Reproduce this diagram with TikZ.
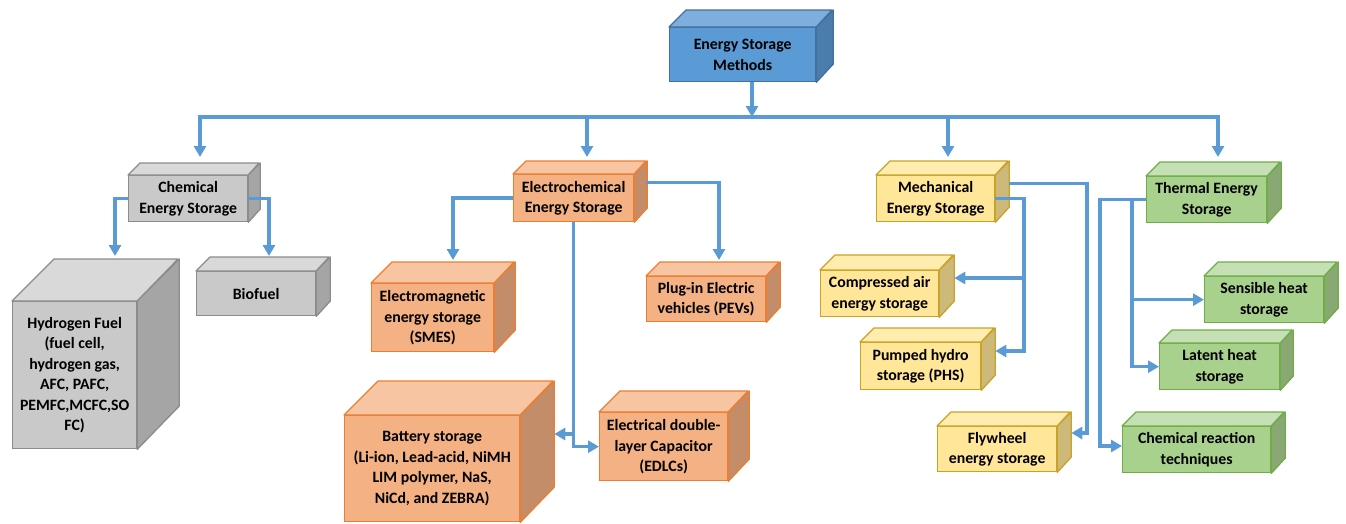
\documentclass[tikz,border=0pt]{standalone}
\usepackage{fontspec}
\setmainfont{Carlito}
\usetikzlibrary{arrows.meta}
\definecolor{conncol}{HTML}{5B9BD5}
\definecolor{bltop}{HTML}{7DAEDD}\definecolor{blfront}{HTML}{5B9BD5}\definecolor{blside}{HTML}{4A7CAC}\definecolor{blline}{HTML}{41719C}
\definecolor{grtop}{HTML}{D9D9D9}\definecolor{grfront}{HTML}{C9C9C9}\definecolor{grside}{HTML}{A5A5A5}\definecolor{grline}{HTML}{8C8C8C}
\definecolor{ortop}{HTML}{F7C5A2}\definecolor{orfront}{HTML}{F4B183}\definecolor{orside}{HTML}{C38D69}\definecolor{orline}{HTML}{ED7D31}
\definecolor{yetop}{HTML}{FFEDB0}\definecolor{yefront}{HTML}{FFE699}\definecolor{yeside}{HTML}{CDBA7A}\definecolor{yeline}{HTML}{C9A227}
\definecolor{gntop}{HTML}{C5E0B4}\definecolor{gnfront}{HTML}{A9D18E}\definecolor{gnside}{HTML}{89A874}\definecolor{gnline}{HTML}{70AD47}
\tikzset{
  x=1pt, y=-1pt,
  face/.style={inner sep=0pt, line width=1.3pt, align=center, text=black,
    font=\bfseries\fontsize{15.8}{20.5}\selectfont},
  facepart/.style={line width=1.3pt, line join=round},
  conn/.style={draw=conncol, line width=3.5pt},
  arr/.style={conn, -{Triangle[length=11pt,width=12pt]}},
}
% #1 name, #2 x1, #3 y1, #4 x2, #5 y2 (front face), #6 depth, #7 colour prefix, #8 text
\newcommand\mycube[8]{%
  \node[face, fill=#7front, draw=#7line, minimum width={(#4-#2)*1pt},
        minimum height={(#5-#3)*1pt}, anchor=north west] (#1) at (#2,#3) {#8};
  \filldraw[facepart, fill=#7top, draw=#7line] (#1.north west) -- ++(#6,-#6)
     -- ++({#4-#2},0) -- (#1.north east) -- cycle;
  \filldraw[facepart, fill=#7side, draw=#7line] (#1.north east) -- ++(#6,-#6)
     -- ++(0,{#5-#3}) -- (#1.south east) -- cycle;
  \path (#1.north east) ++(#6,-#6) coordinate (#1-tr);
}
\begin{document}
\begin{tikzpicture}
\useasboundingbox (0,0) rectangle (1346,523);
% boxes
\mycube{top}{669}{27}{815}{81}{17}{bl}{Energy Storage\\Methods}
\mycube{chem}{128}{175}{247}{221}{12}{gr}{Chemical\\Energy Storage}
\mycube{hyd}{12}{301}{136}{448}{42}{gr}{Hydrogen Fuel\\(fuel cell,\\hydrogen gas,\\AFC, PAFC,\\PEMFC,MCFC,SO\\FC)}
\mycube{bio}{196}{271}{315}{315}{14}{gr}{Biofuel}
\mycube{elec}{513}{174}{633}{221}{13}{or}{Electrochemical\\Energy Storage}
\mycube{smes}{371}{283}{493}{351}{21}{or}{Electromagnetic\\energy storage\\(SMES)}
\mycube{pev}{646}{276}{765}{321}{14}{or}{Plug-in Electric\\vehicles (PEVs)}
\mycube{bat}{344}{415}{519}{521}{34}{or}{Battery storage\\(Li-ion, Lead-acid, NiMH\\LIM polymer, NaS,\\NiCd, and ZEBRA)}
\mycube{edlc}{599}{412}{727}{480}{21}{or}{Electrical double-\\layer Capacitor\\(EDLCs)}
\mycube{mech}{876}{175}{994}{221}{14}{ye}{Mechanical\\Energy Storage}
\mycube{caes}{820}{270}{938}{316}{15}{ye}{Compressed air\\energy storage}
\mycube{phs}{860}{342}{980}{389}{14}{ye}{Pumped hydro\\storage (PHS)}
\mycube{fly}{937}{426}{1056}{471}{14}{ye}{Flywheel\\energy storage}
\mycube{therm}{1146}{176}{1266}{222}{14}{gn}{Thermal Energy\\Storage}
\mycube{sens}{1204}{276}{1323}{322}{14}{gn}{Sensible heat\\storage}
\mycube{lat}{1159}{343}{1279}{389}{13}{gn}{Latent heat\\storage}
\mycube{crt}{1122}{426}{1270}{472}{14}{gn}{Chemical reaction\\techniques}
% junction coordinates
\coordinate (j0) at (752,117);
\coordinate (d1) at (200,157);
\coordinate (d2) at (587,157);
\coordinate (d3) at (948,157);
\coordinate (d4) at (1218,157);
\coordinate (hydin) at (115,256);
\coordinate (bioin) at (269,256);
\coordinate (smesin) at (453,260);
\coordinate (pevin) at (719,260);
\coordinate (bj) at (573,434);
\coordinate (mj1) at (1087,433);
\coordinate (mj2) at (1024,351);
\coordinate (mj3) at (1024,278);
\coordinate (tj1) at (1100,446);
\coordinate (tj2) at (1132,199);
% connectors
\draw[arr] (j0 |- top.south) -- (j0);
\draw[arr] (j0) -| (d1);
\draw[arr] (j0) -| (d2);
\draw[arr] (j0) -| (d3);
\draw[arr] (j0) -| (d4);
\draw[arr] (chem.west) -| (hydin);
\draw[arr] (chem.east) -| (bioin);
\draw[arr] (elec.west) -| (smesin);
\draw[arr] ([xshift=12pt,yshift=15.5pt]elec.east) -| (pevin);
\draw[arr] (elec.south) |- (edlc.west);
\draw[arr] (bj) -- (bj -| bat-tr);
\draw[arr] ([xshift=14pt,yshift=15pt]mech.east) -| (mj1) -- (mj1 -| fly-tr);
\draw[arr] (mech.east) -| (mj2) -- (mj2 -| phs-tr);
\draw[arr] (mj3) -- (mj3 -| caes-tr);
\draw[arr] (therm.west) -| (tj1) -- (tj1 -| crt.west);
\draw[arr] (tj2) |- (lat.west);
\draw[arr] (tj2 |- sens.west) -- (sens.west);
\end{tikzpicture}
\end{document}
